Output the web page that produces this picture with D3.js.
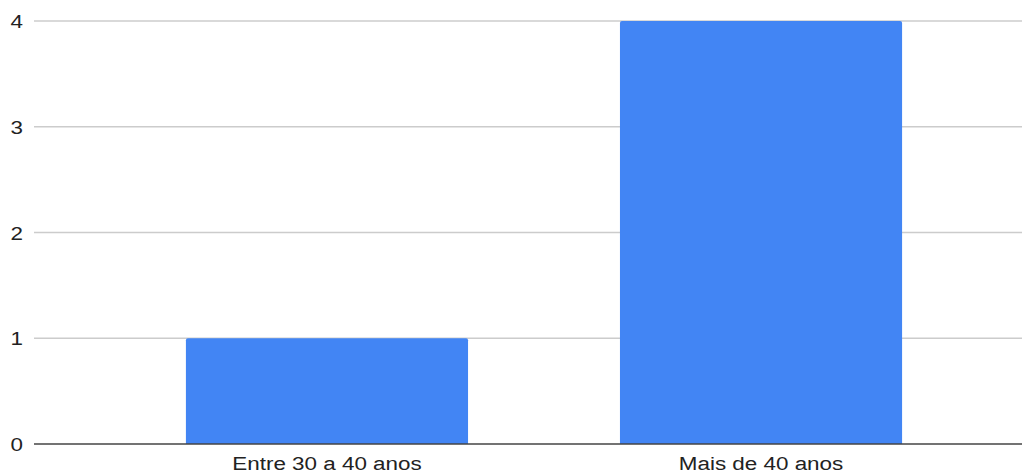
<!DOCTYPE html>
<html><head><meta charset="utf-8">
<script src="https://cdn.jsdelivr.net/npm/d3@7"></script>
<style>body{margin:0;background:#fff}svg{display:block}</style>
</head><body>
<svg id="c" width="1022" height="474"></svg>
<script>
const categories = ["Entre 30 a 40 anos", "Mais de 40 anos"];
const values = [1, 4];
const yTicks = [0, 1, 2, 3, 4];

(function () {
const svg = d3.select("#c");
const mLeft = 34, mRight = 1054, mTop = 21, mBottom = 444;
const x = d3.scaleBand().domain(categories).range([mLeft, mRight]).paddingInner(0.35).paddingOuter(0.35);
const y = d3.scaleLinear().domain([0, 4]).range([mBottom, mTop]);

const font = "'Liberation Sans', Arial, sans-serif";
const sx = 1.18;

svg.append("g").selectAll("line").data(yTicks.filter(d => d > 0)).join("line")
  .attr("x1", mLeft).attr("x2", 1022)
  .attr("y1", d => y(d)).attr("y2", d => y(d))
  .attr("stroke", "#cccccc").attr("stroke-width", 1.3);

svg.append("g").selectAll("text").data(yTicks).join("text")
  .attr("transform", d => `translate(23,${y(d) + 7}) scale(${sx},1)`)
  .attr("text-anchor", "end")
  .attr("font-family", font).attr("font-size", 19).attr("fill", "#222")
  .text(d => d);

const r = 2;
svg.append("g").selectAll("path").data(categories).join("path")
  .attr("fill", "#4285f4")
  .attr("d", (d, i) => {
    const x0 = x(d), w = x.bandwidth(), y0 = y(values[i]), y1 = y(0);
    return `M${x0},${y1}V${y0 + r}Q${x0},${y0} ${x0 + r},${y0}H${x0 + w - r}Q${x0 + w},${y0} ${x0 + w},${y0 + r}V${y1}Z`;
  });

svg.append("line").attr("x1", mLeft).attr("x2", 1022).attr("y1", y(0)).attr("y2", y(0))
  .attr("stroke", "#444").attr("stroke-width", 1.6);

svg.append("g").selectAll("text").data(categories).join("text")
  .attr("transform", d => `translate(${x(d) + x.bandwidth() / 2},470) scale(${sx},1)`)
  .attr("text-anchor", "middle")
  .attr("font-family", font).attr("font-size", 19).attr("fill", "#222")
  .text(d => d);
})();
</script>
</body></html>
